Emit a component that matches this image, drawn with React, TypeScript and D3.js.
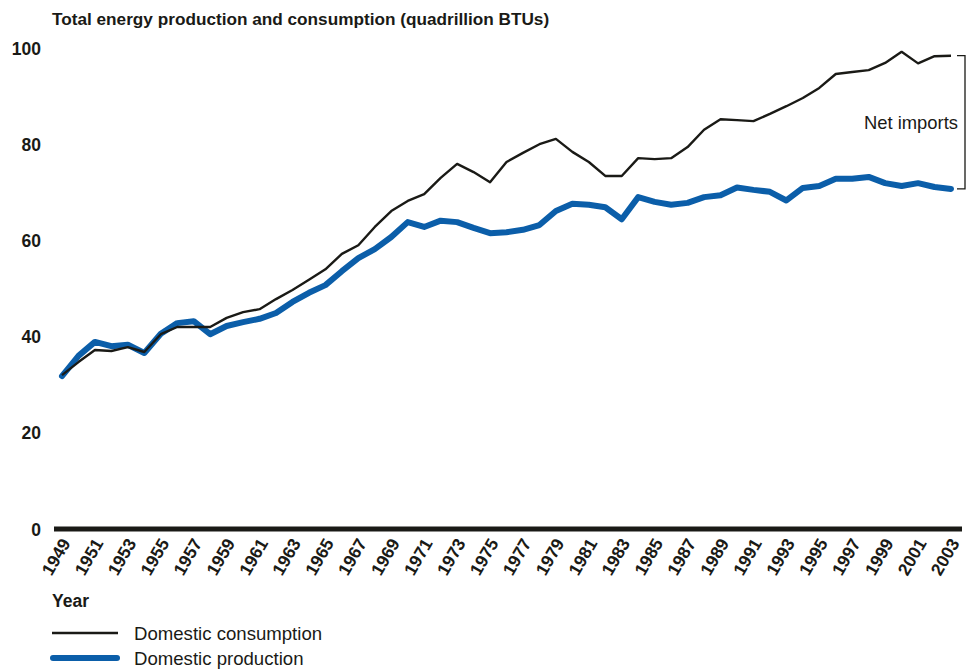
import React from "react";
import * as d3 from "d3";

const years: number[] = d3.range(1949, 2004);
const consumption: number[] = [
  32.0, 34.7, 37.2, 37.0, 37.8, 36.8, 40.5, 42.0, 42.0, 42.0,
  43.9, 45.1, 45.7, 47.8, 49.7, 51.8, 54.0, 57.2, 59.0, 62.8,
  66.1, 68.2, 69.6, 73.0, 75.9, 74.2, 72.1, 76.3, 78.2, 80.0,
  81.1, 78.4, 76.3, 73.4, 73.4, 77.1, 76.9, 77.1, 79.4, 83.0,
  85.2, 85.0, 84.8, 86.3, 87.9, 89.6, 91.7, 94.6, 95.0, 95.4,
  96.9, 99.2, 96.8, 98.3, 98.4,
];
const production: number[] = [
  31.8, 36.0, 38.9, 38.0, 38.3, 36.6, 40.6, 42.8, 43.2, 40.5,
  42.2, 43.0, 43.7, 44.9, 47.2, 49.1, 50.7, 53.6, 56.3, 58.2,
  60.7, 63.8, 62.8, 64.1, 63.8, 62.6, 61.5, 61.7, 62.2, 63.2,
  66.1, 67.6, 67.4, 66.9, 64.4, 69.0, 68.0, 67.4, 67.8, 69.0,
  69.4, 71.0, 70.5, 70.1, 68.3, 70.9, 71.3, 72.8, 72.8, 73.2,
  71.9, 71.3, 71.9, 71.1, 70.7,
];
const yTicks: number[] = [0, 20, 40, 60, 80, 100];
const xTickYears: number[] = d3.range(1949, 2004, 2);
const seriesNames: string[] = ["Domestic consumption", "Domestic production"];

const FONT = "'Liberation Sans', Arial, Helvetica, sans-serif";
const BLACK = "#1a1a16";
const BLUE = "#0b5ea9";

export default function App() {
  const W = 972, H = 669;
  const x = d3.scaleLinear().domain([1949, 2003]).range([62, 951]);
  const y = d3.scaleLinear().domain([0, 100]).range([529, 48]);
  const line = d3.line<number>().x((_, i) => x(years[i])).y((d) => y(d));
  const last = years.length - 1;
  const topY = y(consumption[last]);
  const botY = y(production[last]);
  const bx = 965;
  return (
    <svg width={W} height={H} style={{ position: "absolute", left: 0, top: 0, background: "#fff" }} fontFamily={FONT}>
      <text x={52} y={25} fontSize={17.2} fontWeight="bold" fill={BLACK}>
        Total energy production and consumption (quadrillion BTUs)
      </text>
      {yTicks.map((t) => (
        <text key={t} x={41} y={y(t) + 6.5} textAnchor="end" fontSize={17.5} fontWeight="bold" fill={BLACK}>
          {t}
        </text>
      ))}
      <line x1={54} x2={962} y1={y(0)} y2={y(0)} stroke={BLACK} strokeWidth={5} />
      {xTickYears.map((yr) => (
        <text
          key={yr}
          transform={`translate(${x(yr) + 9},${y(0) + 14}) rotate(-60)`}
          textAnchor="end"
          fontSize={17.5}
          fontWeight="bold"
          fill={BLACK}
        >
          {yr}
        </text>
      ))}
      <path d={line(production) || ""} fill="none" stroke={BLUE} strokeWidth={6} strokeLinejoin="round" strokeLinecap="round" />
      <path d={line(consumption) || ""} fill="none" stroke={BLACK} strokeWidth={2.4} strokeLinejoin="round" />
      <path d={`M${bx - 8},${topY}H${bx}V${botY}H${bx - 8}`} fill="none" stroke={BLACK} strokeWidth={1.3} />
      <text x={958} y={(topY + botY) / 2 + 6.5} textAnchor="end" fontSize={18.4} fill={BLACK}>
        Net imports
      </text>
      <text x={52} y={607} fontSize={17.5} fontWeight="bold" fill={BLACK}>Year</text>
      <line x1={52} x2={118} y1={633} y2={633} stroke={BLACK} strokeWidth={2.4} />
      <text x={134} y={639.5} fontSize={18.6} fill={BLACK}>{seriesNames[0]}</text>
      <line x1={53} x2={117} y1={658} y2={658} stroke={BLUE} strokeWidth={6} strokeLinecap="round" />
      <text x={134} y={664.5} fontSize={18.6} fill={BLACK}>{seriesNames[1]}</text>
    </svg>
  );
}
